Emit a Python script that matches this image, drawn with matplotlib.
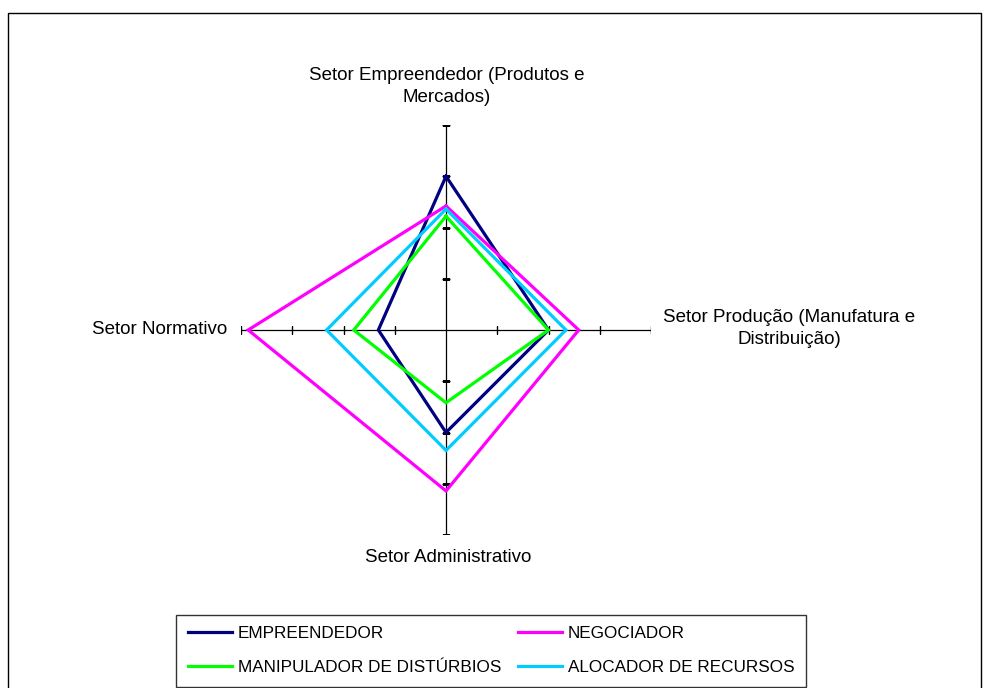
import numpy as np
import matplotlib
matplotlib.use('Agg')
import matplotlib.pyplot as plt
from matplotlib.patches import Rectangle

plt.rcParams['font.family'] = ['Liberation Sans', 'DejaVu Sans']

# Radar axes (clockwise from top)
setores = ['Setor Empreendedor (Produtos e\nMercados)',
           'Setor Produção (Manufatura e\nDistribuição)',
           'Setor Administrativo',
           'Setor Normativo']

# Values of each profile on the four axes
empreendedor = [3.0, 2.0, 2.0, 1.32]
negociador = [2.42, 2.59, 3.14, 3.86]
manipulador = [2.22, 2.0, 1.42, 1.8]
alocador = [2.36, 2.34, 2.35, 2.33]

series = [('EMPREENDEDOR', empreendedor, '#000080'),
          ('NEGOCIADOR', negociador, '#FF00FF'),
          ('MANIPULADOR DE DISTÚRBIOS', manipulador, '#00FF00'),
          ('ALOCADOR DE RECURSOS', alocador, '#00CCFF')]

ticks_r = [1, 2, 3, 4]
r_max = 4

W, H = 989, 688
fig = plt.figure(figsize=(W / 100, H / 100), dpi=100)

# polar axes, centre at (446, 330) px, radius 205 px
cx, cy, rad = 446, 330, 205
ax = fig.add_axes([(cx - rad) / W, 1 - (cy + rad) / H, 2 * rad / W, 2 * rad / H],
                  projection='polar')
ax.set_theta_zero_location('N')
ax.set_theta_direction(-1)
ax.set_ylim(0, r_max)
ax.grid(False)
ax.set_xticks([])
ax.set_yticks([])
ax.spines['polar'].set_visible(False)
ax.patch.set_alpha(0)

angles = np.linspace(0, 2 * np.pi, len(setores), endpoint=False)

# axes with cross ticks
for i, a in enumerate(angles):
    ax.plot([a, a], [0, r_max], color='black', lw=0.9, zorder=1)
    mk = '_' if i % 2 == 0 else '|'
    ax.plot([a] * len(ticks_r), ticks_r, linestyle='none', marker=mk,
            markersize=6, markeredgewidth=1.0, color='black', zorder=1)

# series polygons
for name, vals, col in series:
    th = list(angles) + [angles[0]]
    rr = list(vals) + [vals[0]]
    ax.plot(th, rr, color=col, lw=2.3, label=name, zorder=3, solid_joinstyle='miter')

# category labels
fs = 13.5
fig.text(447 / W, 1 - 86.5 / H, setores[0], ha='center', va='center',
         fontsize=fs, linespacing=1.4)
fig.text(789 / W, 1 - 328.5 / H, setores[1], ha='center', va='center',
         fontsize=fs, linespacing=1.4)
fig.text(448 / W, 1 - 557 / H, setores[2], ha='center', va='center', fontsize=fs)
fig.text(227 / W, 1 - 330 / H, setores[3], ha='right', va='center', fontsize=fs)

# legend, filled row by row like the original
handles, labels = ax.get_legend_handles_labels()
order = [0, 2, 1, 3]
leg = fig.legend([handles[i] for i in order], [labels[i] for i in order],
                 ncol=2, loc='upper left',
                 bbox_to_anchor=(176 / W, 1 - 614.5 / H), frameon=True,
                 fancybox=False, edgecolor='black', fontsize=12.3,
                 handlelength=2.6, handletextpad=0.3, columnspacing=1.0,
                 labelspacing=1.1, borderpad=0.7, borderaxespad=0)
leg.get_frame().set_linewidth(1.0)

# outer chart frame
fig.patches.append(Rectangle((8 / W, -0.05), (981 - 8) / W, 1 - 13 / H + 0.05,
                             transform=fig.transFigure, fill=False,
                             edgecolor='black', lw=1.0))

fig.savefig('out.png', dpi=100, facecolor='white')
